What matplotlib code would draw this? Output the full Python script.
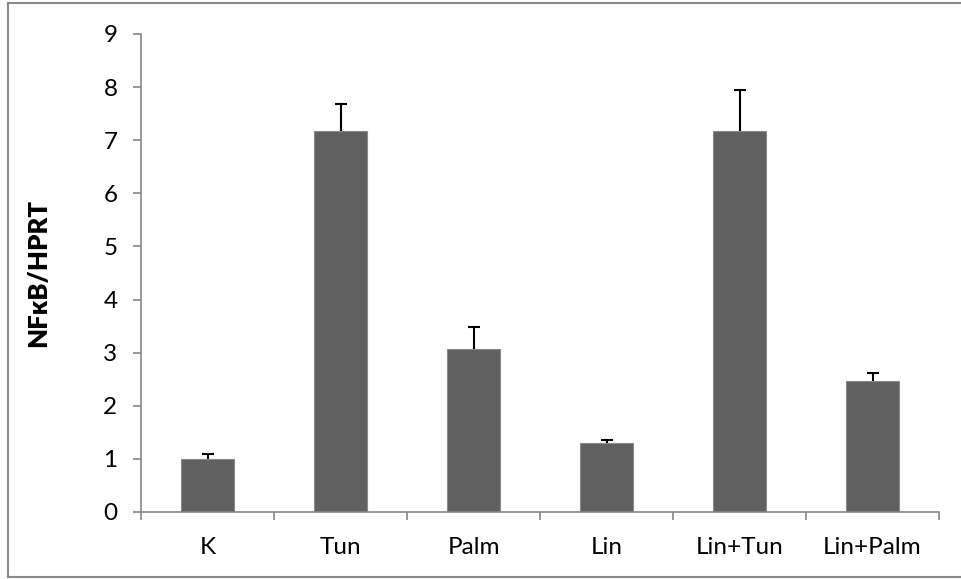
import matplotlib
matplotlib.use("Agg")
import matplotlib.pyplot as plt
from matplotlib.lines import Line2D
import numpy as np

categories = ["K", "Tun", "Palm", "Lin", "Lin+Tun", "Lin+Palm"]
values = [1.0, 7.17, 3.06, 1.29, 7.17, 2.47]
errors = [0.10, 0.51, 0.42, 0.07, 0.78, 0.15]
yticks = [0, 1, 2, 3, 4, 5, 6, 7, 8, 9]

plt.rcParams['font.family'] = ['Lato', 'DejaVu Sans']

fig = plt.figure(figsize=(9.61, 5.79), dpi=100)
ax = fig.add_axes([141/961, 1-512/579, 798/961, 478/579])

x = np.arange(len(categories))
vals = np.array(values)
errs = np.array(errors)
ax.bar(x, vals, width=0.4, color='#606060', edgecolor='#8a8a8a', linewidth=0.8, zorder=2)
ax.vlines(x, vals, vals + errs, color='black', lw=1.5, zorder=3)
ax.plot(x, vals + errs, ls='none', marker='_', ms=9, mew=1.5, color='black', zorder=3)

ax.set_xlim(-0.5, len(categories)-0.5)
ax.set_ylim(0, 9)
ax.set_yticks(yticks)
ax.set_yticklabels([str(t) for t in yticks])
ax.set_xticks(x)
ax.set_xticklabels(categories)
ax.set_xticks(np.arange(len(categories)+1)-0.5, minor=True)

for s in ['top', 'right']:
    ax.spines[s].set_visible(False)
for s in ['left', 'bottom']:
    ax.spines[s].set_color('#868686')
    ax.spines[s].set_linewidth(1.2)

ax.tick_params(axis='y', direction='out', length=6, width=1.2, color='#868686',
               labelsize=17.5, pad=11, labelcolor='black')
ax.tick_params(axis='x', which='major', length=0, labelsize=17.5, pad=18, labelcolor='black')
ax.tick_params(axis='x', which='minor', direction='out', length=6, width=1.2, color='#868686')

ax.set_ylabel("NFκB/HPRT", fontsize=18.5, fontweight='heavy')
ax.yaxis.set_label_coords(-0.114, 0.5)

# outer chart border
bc = '#898989'
fig.add_artist(Line2D([8/961, 8/961], [1-3/579, 1-577/579], color=bc, lw=1.5, transform=fig.transFigure))
fig.add_artist(Line2D([8/961, 1.0], [1-3/579, 1-3/579], color=bc, lw=1.5, transform=fig.transFigure))
fig.add_artist(Line2D([8/961, 1.0], [1-577/579, 1-577/579], color=bc, lw=1.5, transform=fig.transFigure))

fig.savefig("out.png", dpi=100)
